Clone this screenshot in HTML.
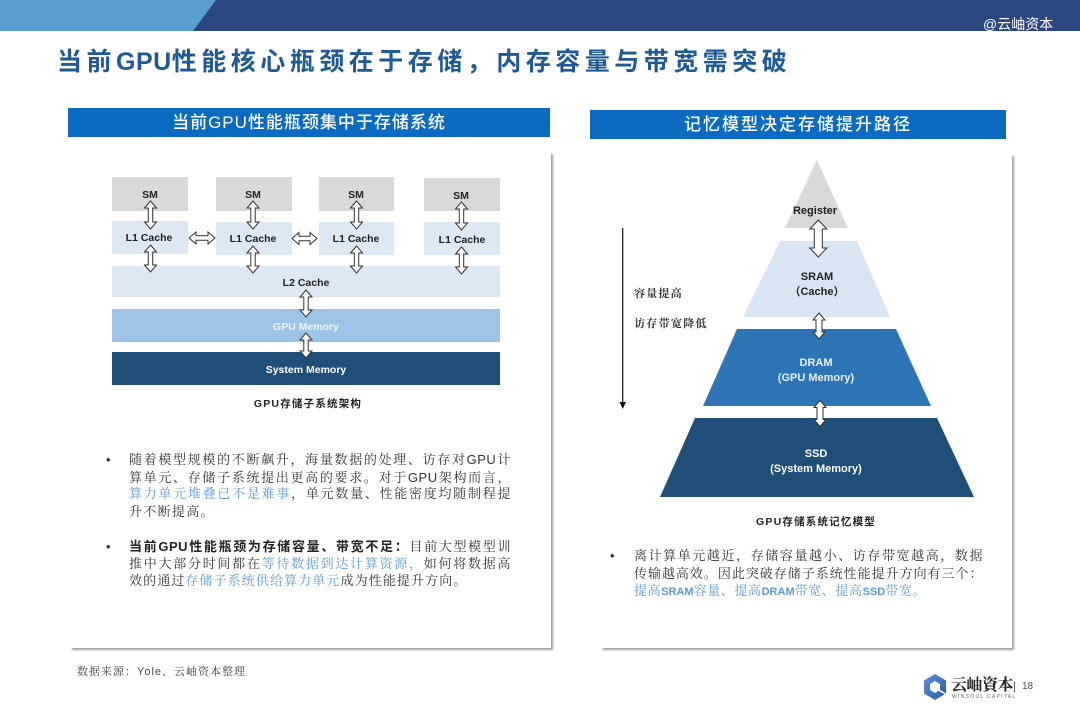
<!DOCTYPE html>
<html>
<head>
<meta charset="utf-8">
<style>
html,body{margin:0;padding:0;}
body{width:1080px;height:720px;position:relative;background:#fff;overflow:hidden;font-family:"Liberation Sans","Noto Sans CJK SC",sans-serif;}
.abs{position:absolute;}
.panel{position:absolute;background:#fff;box-shadow:2px 2px 2px rgba(0,0,0,0.38);}
.hdr{position:absolute;background:#0b6bc0;color:#fff;font-family:"Liberation Sans","Noto Sans CJK SC",sans-serif;font-weight:500;font-size:17px;text-align:center;line-height:29px;height:29px;}
.ln{position:absolute;font-size:13px;line-height:17px;height:17px;font-family:"Liberation Sans","Noto Serif CJK SC",serif;color:#333;letter-spacing:0.5px;white-space:normal;}
.j{text-align:justify;text-align-last:justify;}
.l{text-align:left;white-space:nowrap;letter-spacing:1.3px;}
.b{color:#5b9bd5;}
.bd{font-family:"Liberation Sans","Noto Sans CJK SC",sans-serif;font-weight:bold;color:#222;}
.bul{position:absolute;font-size:13px;line-height:17px;color:#333;}
.lat{font-family:"Liberation Sans",sans-serif;font-weight:bold;font-size:11px;letter-spacing:0;}
</style>
</head>
<body>

<!-- top banner -->
<svg class="abs" style="left:0;top:0" width="1080" height="31">
  <rect x="0" y="0" width="1080" height="31" fill="#2c4682"/>
  <polygon points="0,0 216,0 193,31 0,31" fill="#5b9fd1"/>
</svg>
<div class="abs" style="left:983px;top:15px;font-size:14px;color:#fff;line-height:18px;font-family:'Liberation Sans','Noto Sans CJK SC',sans-serif;">@云岫资本</div>

<!-- title -->
<div class="abs" style="left:57px;top:47px;font-size:25px;line-height:30px;color:#1d5a96;font-weight:bold;letter-spacing:4.5px;white-space:nowrap;font-family:'Liberation Sans','Noto Sans CJK SC',sans-serif;">当前<span style="letter-spacing:0.5px;">GPU</span>性能核心瓶颈在于存储，内存容量与带宽需突破</div>

<!-- panels -->
<div class="panel" style="left:70px;top:152px;width:481px;height:496px;"></div>
<div class="panel" style="left:601px;top:154px;width:411px;height:494px;"></div>

<!-- headers -->
<div class="hdr" style="left:68px;top:108px;width:482px;letter-spacing:1px;">当前GPU性能瓶颈集中于存储系统</div>
<div class="hdr" style="left:590px;top:110px;width:416px;letter-spacing:2px;">记忆模型决定存储提升路径</div>

<!-- left diagram -->
<svg class="abs" style="left:0;top:0" width="560" height="420" font-family="Liberation Sans, Noto Sans CJK SC, sans-serif" font-weight="bold" font-size="10.5">
  <g fill="#d9d9d9">
    <rect x="112" y="177" width="76" height="34"/>
    <rect x="216" y="177" width="76" height="34"/>
    <rect x="319" y="177" width="75" height="34"/>
    <rect x="424" y="178" width="76" height="33"/>
  </g>
  <g fill="#dde8f4">
    <rect x="112" y="221" width="76" height="33"/>
    <rect x="216" y="222" width="76" height="33"/>
    <rect x="319" y="222" width="75" height="33"/>
    <rect x="424" y="222" width="76" height="33"/>
    <rect x="112" y="266" width="388" height="31"/>
  </g>
  <rect x="112" y="309" width="388" height="33" fill="#9dc3e6"/>
  <rect x="112" y="352" width="388" height="33" fill="#1f4e79"/>
  <g fill="#222" text-anchor="middle">
    <text x="150" y="198">SM</text>
    <text x="253" y="198">SM</text>
    <text x="356" y="198">SM</text>
    <text x="461" y="199">SM</text>
    <text x="149" y="241">L1 Cache</text>
    <text x="253" y="242">L1 Cache</text>
    <text x="356" y="242">L1 Cache</text>
    <text x="462" y="243">L1 Cache</text>
    <text x="306" y="286">L2 Cache</text>
  </g>
  <text x="306" y="330" fill="#eef4fb" text-anchor="middle">GPU Memory</text>
  <text x="306" y="373" fill="#ffffff" text-anchor="middle">System Memory</text>
  <g fill="#fff" stroke="#333" stroke-width="1">
    <polygon points="150.5,201 156.5,208 152.7,208 152.7,222 156.5,222 150.5,229 144.5,222 148.3,222 148.3,208 144.5,208"/>
    <polygon points="253,201 259,208 255.2,208 255.2,222 259,222 253,229 247,222 250.8,222 250.8,208 247,208"/>
    <polygon points="356.5,201 362.5,208 358.7,208 358.7,222 362.5,222 356.5,229 350.5,222 354.3,222 354.3,208 350.5,208"/>
    <polygon points="461.5,202 467.5,209 463.7,209 463.7,223 467.5,223 461.5,230 455.5,223 459.3,223 459.3,209 455.5,209"/>
    <polygon points="150.5,245 156.5,252 152.7,252 152.7,265 156.5,265 150.5,272 144.5,265 148.3,265 148.3,252 144.5,252"/>
    <polygon points="253,246 259,253 255.2,253 255.2,266 259,266 253,273 247,266 250.8,266 250.8,253 247,253"/>
    <polygon points="356.5,246 362.5,253 358.7,253 358.7,266 362.5,266 356.5,273 350.5,266 354.3,266 354.3,253 350.5,253"/>
    <polygon points="461.5,247 467.5,254 463.7,254 463.7,267 467.5,267 461.5,274 455.5,267 459.3,267 459.3,254 455.5,254"/>
    <polygon points="189,238 196,232 196,235.8 208,235.8 208,232 215,238 208,244 208,240.2 196,240.2 196,244"/>
    <polygon points="292,238.5 299,232.5 299,236.3 310,236.3 310,232.5 317,238.5 310,244.5 310,240.7 299,240.7 299,244.5"/>
    <polygon points="306,290 312,297 308.2,297 308.2,310 312,310 306,317 300,310 303.8,310 303.8,297 300,297"/>
    <polygon points="306,333 312,340 308.2,340 308.2,351 312,351 306,358 300,351 303.8,351 303.8,340 300,340"/>
  </g>
  <text x="308" y="407" fill="#222" text-anchor="middle" font-size="10.5" letter-spacing="1.2">GPU存储子系统架构</text>
</svg>

<!-- left bullets -->
<div class="bul" style="left:106px;top:450.5px;">•</div>
<div class="ln j" style="left:129px;top:450.5px;width:382px;">随着模型规模的不断飙升，海量数据的处理、访存对GPU计</div>
<div class="ln j" style="left:129px;top:468.5px;width:382px;">算单元、存储子系统提出更高的要求。对于GPU架构而言，</div>
<div class="ln j" style="left:129px;top:485px;width:382px;"><span class="b">算力单元堆叠已不是难事</span>，单元数量、性能密度均随制程提</div>
<div class="ln l" style="left:129px;top:502.5px;">升不断提高。</div>

<div class="bul" style="left:106px;top:537.5px;">•</div>
<div class="ln j" style="left:129px;top:537.5px;width:382px;"><span class="bd">当前GPU性能瓶颈为存储容量、带宽不足：</span>目前大型模型训</div>
<div class="ln j" style="left:129px;top:554.5px;width:382px;">推中大部分时间都在<span class="b">等待数据到达计算资源，</span>如何将数据高</div>
<div class="ln l" style="left:129px;top:571.5px;letter-spacing:1.1px;">效的通过<span class="b">存储子系统供给算力单元</span>成为性能提升方向。</div>

<div class="abs" style="left:77px;top:665px;font-size:11px;line-height:15px;color:#444;letter-spacing:1px;font-family:'Liberation Sans','Noto Serif CJK SC',serif;white-space:nowrap;">数据来源：Yole、云岫资本整理</div>

<!-- right diagram -->
<svg class="abs" style="left:0;top:0" width="1080" height="540" font-family="Liberation Sans, Noto Sans CJK SC, sans-serif" font-weight="bold" font-size="11">
  <polygon points="816.7,160 848,228 785,228" fill="#d9d9d9"/>
  <polygon points="780,241 857,241 890,317 743,317" fill="#dae5f3"/>
  <polygon points="737,329 896,329 931,406 703,406" fill="#2e75b6"/>
  <polygon points="695,418 937,418 974,497 660,497" fill="#1f4e79"/>
  <g text-anchor="middle">
    <text x="815" y="214" fill="#222">Register</text>
    <text x="817" y="280" fill="#222">SRAM</text>
    <text x="817" y="295" fill="#222">（Cache）</text>
    <text x="816" y="366" fill="#e8f1fa">DRAM</text>
    <text x="816" y="381" fill="#e8f1fa">(GPU Memory)</text>
    <text x="816" y="457" fill="#fff">SSD</text>
    <text x="816" y="472" fill="#fff">(System Memory)</text>
  </g>
  <g fill="#fff" stroke="#333" stroke-width="1">
    <polygon points="818.3,220 826.8,229 822.3,229 822.3,248 826.8,248 818.3,257 809.8,248 814.3,248 814.3,229 809.8,229"/>
    <polygon points="819,313 825,320 822,320 822,332 825,332 819,339 813,332 816,332 816,320 813,320"/>
    <polygon points="820,400.5 826,407.5 823,407.5 823,419.5 826,419.5 820,426.5 814,419.5 817,419.5 817,407.5 814,407.5"/>
  </g>
  <line x1="622.7" y1="228" x2="622.7" y2="403" stroke="#111" stroke-width="1.2"/>
  <polygon points="619.5,402 626,402 622.7,409" fill="#111"/>
  <text x="816" y="525" fill="#222" text-anchor="middle" font-size="10.5" letter-spacing="1.2">GPU存储系统记忆模型</text>
</svg>
<div class="abs" style="left:634px;top:287px;font-size:11px;line-height:14px;color:#333;letter-spacing:1.2px;font-weight:bold;font-family:'Liberation Sans','Noto Serif CJK SC',serif;white-space:nowrap;">容量提高</div>
<div class="abs" style="left:634px;top:317px;font-size:11px;line-height:14px;color:#333;letter-spacing:1.3px;font-weight:bold;font-family:'Liberation Sans','Noto Serif CJK SC',serif;white-space:nowrap;">访存带宽降低</div>

<!-- right bullet -->
<div class="bul" style="left:610px;top:546.5px;">•</div>
<div class="ln j" style="left:634px;top:546.5px;width:349px;">离计算单元越近，存储容量越小、访存带宽越高，数据</div>
<div class="ln j" style="left:634px;top:564.5px;width:349px;">传输越高效。因此突破存储子系统性能提升方向有三个：</div>
<div class="ln l b" style="left:634px;top:581.5px;letter-spacing:0.6px;">提高<span class="lat">SRAM</span>容量、提高<span class="lat">DRAM</span>带宽、提高<span class="lat">SSD</span>带宽。</div>

<!-- logo -->
<svg class="abs" style="left:918px;top:670px" width="34" height="34">
  <defs>
    <linearGradient id="lg" x1="0" y1="0" x2="1" y2="1">
      <stop offset="0" stop-color="#5a8fd0"/>
      <stop offset="1" stop-color="#2d5ea8"/>
    </linearGradient>
  </defs>
  <polygon points="17,4 28,10.5 28,23.5 17,30 6,23.5 6,10.5" fill="url(#lg)"/>
  <polygon points="17,11 22,14 22,20 17,23 12,20 12,14" fill="#fff"/>
  <polygon points="19,20 28,25 28,23.5 22,20" fill="#fff"/>
</svg>
<div class="abs" style="left:951px;top:675px;font-size:16px;line-height:18px;color:#222;font-weight:bold;font-family:'Noto Serif CJK SC',serif;white-space:nowrap;letter-spacing:-0.5px;">云岫資本</div>
<div class="abs" style="left:952px;top:694px;font-size:5px;line-height:6px;color:#666;letter-spacing:1.3px;white-space:nowrap;">WINSOUL CAPITAL</div>
<div class="abs" style="left:1013px;top:679px;font-size:12px;line-height:14px;color:#555;">|</div>
<div class="abs" style="left:1022px;top:680px;font-size:10px;line-height:13px;color:#555;">18</div>

</body>
</html>
